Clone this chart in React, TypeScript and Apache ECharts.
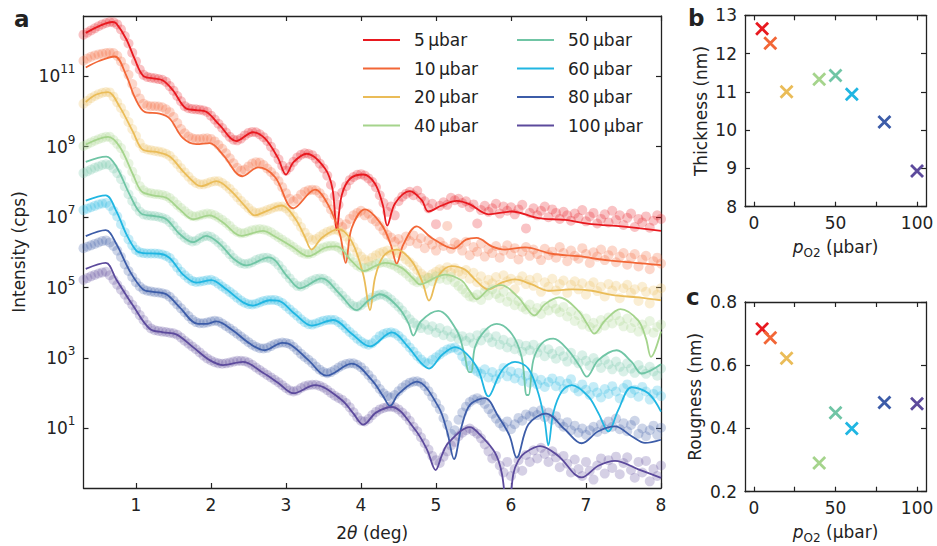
import React, { useEffect, useRef } from "react";
import * as echarts from "echarts";

const FONT = "DejaVu Sans";
const INK = "#222222";

const pressures = [5, 10, 20, 40, 50, 60, 80, 100];
const seriesLabels = pressures.map((p) => `${p}\u2009µbar`);
const colors = ["#e8191f", "#f26636", "#eabc58", "#a5d48c", "#70c5a5", "#20b6e2", "#3c5ca8", "#5c4a9c"];

const xTicks = [1, 2, 3, 4, 5, 6, 7, 8];
const yTickExps = [1, 3, 5, 7, 9, 11];
const pTicksLabel = [0, 50, 100];
const pTicksAll = [0, 25, 50, 75, 100];
const thickTicks = [8, 9, 10, 11, 12, 13];
const roughTicks = [0.2, 0.4, 0.6, 0.8];

const thickness = [12.65, 12.27, 11.0, 11.33, 11.43, 10.94, 10.21, 8.93];
const roughness = [0.715, 0.687, 0.622, 0.291, 0.45, 0.40, 0.482, 0.478];

// fitted curves: [2theta (deg), log10 intensity]
const fit5: [number, number][] = [[0.33,12.23],[0.516,12.43],[0.684,12.54],[0.737,12.50],[0.871,12.05],[0.982,11.49],[1.093,11.02],[1.227,10.94],[1.36,10.88],[1.493,10.60],[1.671,10.08],[1.804,10.04],[1.937,9.99],[2.116,9.61],[2.337,9.16],[2.56,9.41],[2.716,9.24],[2.893,8.68],[3.0,8.21],[3.1,8.56],[3.276,8.80],[3.52,8.38],[3.62,7.80],[3.676,6.64],[3.743,7.62],[3.853,8.09],[4.03,8.21],[4.187,7.95],[4.29,7.35],[4.35,6.76],[4.453,7.39],[4.653,7.74],[4.81,7.48],[4.898,7.16],[5.076,7.33],[5.276,7.46],[5.453,7.36],[5.70,7.08],[6.01,7.16],[6.365,6.97],[6.72,6.92],[7.076,6.80],[7.476,6.74],[8.0,6.61]];
const fit10: [number, number][] = [[0.33,11.25],[0.516,11.44],[0.716,11.56],[0.871,11.02],[0.982,10.41],[1.116,9.99],[1.316,9.94],[1.449,9.80],[1.627,9.24],[1.804,9.07],[1.982,9.10],[2.16,8.77],[2.418,8.16],[2.627,8.41],[2.853,8.14],[3.098,7.25],[3.387,7.78],[3.564,7.34],[3.72,6.50],[3.796,5.70],[3.876,6.69],[4.053,7.22],[4.276,6.78],[4.40,6.20],[4.476,5.68],[4.564,6.22],[4.743,6.74],[4.943,6.41],[5.231,6.11],[5.40,6.36],[5.542,6.41],[5.743,6.17],[5.92,6.08],[6.187,6.14],[6.543,5.96],[6.90,5.89],[7.30,5.77],[8.0,5.64]];
const fit20: [number, number][] = [[0.33,10.27],[0.47,10.48],[0.627,10.55],[0.783,10.13],[0.96,9.42],[1.093,8.91],[1.271,8.85],[1.449,8.72],[1.627,8.30],[1.804,7.93],[1.871,7.88],[2.071,8.02],[2.249,7.78],[2.471,7.27],[2.582,7.05],[2.738,7.17],[2.943,7.33],[3.12,6.97],[3.25,6.45],[3.342,6.08],[3.476,6.41],[3.698,6.66],[3.876,6.31],[4.03,5.37],[4.12,4.36],[4.187,5.28],[4.298,5.89],[4.476,6.08],[4.676,5.75],[4.82,5.15],[4.907,4.63],[5.031,5.33],[5.209,5.61],[5.387,5.51],[5.52,5.23],[5.70,4.95],[5.876,5.14],[6.053,5.23],[6.276,5.09],[6.498,4.91],[6.81,4.95],[7.076,4.91],[7.343,4.79],[7.698,4.72],[8.0,4.64]];
const fit40: [number, number][] = [[0.33,9.06],[0.627,9.28],[0.783,9.00],[0.96,8.21],[1.071,7.74],[1.227,7.62],[1.404,7.55],[1.582,7.22],[1.76,6.94],[1.98,7.05],[2.16,6.85],[2.404,6.47],[2.693,6.61],[2.853,6.45],[3.076,6.17],[3.298,5.89],[3.52,6.13],[3.676,6.17],[3.876,5.75],[4.044,5.47],[4.187,5.61],[4.32,5.70],[4.542,5.56],[4.70,5.25],[4.787,5.09],[4.987,5.28],[5.12,5.37],[5.342,5.20],[5.45,4.90],[5.542,4.67],[5.70,4.95],[5.87,5.07],[6.098,4.72],[6.22,4.38],[6.31,4.21],[6.453,4.53],[6.64,4.72],[6.898,4.34],[7.02,3.95],[7.11,3.69],[7.253,4.06],[7.46,4.39],[7.698,4.06],[7.80,3.55],[7.867,3.03],[8.0,3.75]];
const fit50: [number, number][] = [[0.33,8.57],[0.604,8.72],[0.737,8.44],[0.916,7.64],[1.071,7.10],[1.249,7.03],[1.404,6.94],[1.582,6.52],[1.76,6.29],[1.937,6.47],[2.116,6.24],[2.30,5.82],[2.47,5.63],[2.77,5.86],[3.031,5.28],[3.187,4.98],[3.476,5.26],[3.72,4.81],[3.942,4.36],[4.098,4.63],[4.253,4.81],[4.498,4.44],[4.63,4.00],[4.698,3.64],[4.80,4.05],[5.031,4.34],[5.276,3.78],[5.38,3.10],[5.44,2.60],[5.47,2.60],[5.52,3.31],[5.653,3.78],[5.809,3.97],[6.009,3.69],[6.142,3.03],[6.21,1.95],[6.235,1.95],[6.298,2.94],[6.409,3.41],[6.564,3.55],[6.764,3.22],[6.92,2.75],[7.009,2.47],[7.164,2.94],[7.409,3.22],[7.609,2.89],[7.742,2.56],[8.0,2.82]];
const fit60: [number, number][] = [[0.33,7.47],[0.596,7.62],[0.737,7.17],[0.871,6.52],[1.004,6.05],[1.093,5.98],[1.316,5.96],[1.449,5.84],[1.627,5.37],[1.804,5.14],[2.004,5.21],[2.204,4.95],[2.427,4.58],[2.56,4.49],[2.782,4.64],[2.893,4.63],[3.12,4.25],[3.342,3.92],[3.631,4.08],[3.876,3.69],[4.12,3.33],[4.41,3.73],[4.631,3.31],[4.80,2.86],[4.907,2.70],[5.076,3.08],[5.253,3.31],[5.409,3.12],[5.564,2.66],[5.70,1.91],[5.831,2.47],[5.92,2.75],[6.053,2.89],[6.231,2.70],[6.364,2.00],[6.45,1.20],[6.498,0.52],[6.564,1.44],[6.676,2.05],[6.81,2.23],[7.031,1.91],[7.164,1.44],[7.298,0.92],[7.431,1.53],[7.609,2.17],[7.831,2.00],[8.0,1.48]];
const fit80: [number, number][] = [[0.33,6.46],[0.596,6.63],[0.737,6.24],[0.916,5.47],[1.093,4.95],[1.227,4.88],[1.404,4.81],[1.582,4.44],[1.827,3.97],[1.937,3.97],[2.071,4.04],[2.293,3.78],[2.516,3.41],[2.716,3.22],[2.95,3.43],[3.031,3.41],[3.298,2.94],[3.542,2.50],[3.876,2.84],[4.142,2.38],[4.30,1.90],[4.387,1.64],[4.50,1.98],[4.743,2.33],[5.031,1.62],[5.15,0.90],[5.24,0.13],[5.342,1.06],[5.453,1.67],[5.653,1.86],[5.831,1.34],[5.98,0.80],[6.076,0.17],[6.231,1.11],[6.467,1.42],[6.72,0.97],[6.942,0.58],[7.164,0.92],[7.387,1.06],[7.609,0.78],[7.787,0.59],[8.0,0.68]];
const fit100: [number, number][] = [[0.33,5.53],[0.596,5.70],[0.737,5.23],[0.96,4.49],[1.182,3.83],[1.36,3.73],[1.537,3.67],[1.76,3.31],[1.982,2.94],[2.16,2.80],[2.427,2.89],[2.693,2.58],[2.893,2.30],[3.098,2.00],[3.387,2.23],[3.743,1.81],[3.90,1.42],[4.031,1.11],[4.20,1.45],[4.409,1.61],[4.72,0.97],[4.88,0.40],[4.996,-0.18],[5.08,0.25],[5.164,0.59],[5.453,1.04],[5.564,0.87],[5.787,0.31],[5.88,-0.30],[5.96,-1.6],[6.03,-0.30],[6.10,0.10],[6.187,0.31],[6.387,0.50],[6.631,0.22],[6.942,-0.39],[7.164,-0.06],[7.387,0.08],[7.698,-0.16],[8.0,-0.40]];

// measured points: 2theta from 0.30 to 8.00 in 0.05 deg steps, log10 intensity
const dataX = Array.from({ length: 155 }, (_, i) => Math.round((0.3 + 0.05 * i) * 100) / 100);
const meas5 = [12.18,12.24,12.30,12.36,12.42,12.47,12.51,12.54,12.53,12.47,12.33,12.14,11.93,11.67,11.42,11.19,11.04,10.98,10.96,10.94,
10.92,10.90,10.84,10.72,10.59,10.44,10.29,10.15,10.09,10.07,10.06,10.05,10.03,9.99,9.88,9.77,9.65,9.53,9.40,9.28,
9.20,9.18,9.23,9.32,9.39,9.42,9.41,9.35,9.27,9.16,9.00,8.82,8.64,8.46,8.32,8.42,8.57,8.69,8.77,8.81,
8.80,8.76,8.66,8.52,8.38,8.18,7.92,7.60,7.35,7.70,7.88,8.05,8.14,8.20,8.22,8.18,8.10,8.00,7.85,7.62,
7.40,7.15,7.30,7.05,7.45,7.58,7.66,7.72,7.62,7.75,7.55,7.45,7.25,7.38,6.80,7.32,7.42,7.35,7.55,7.48,
7.52,7.40,7.45,7.28,7.36,6.82,7.20,7.32,7.15,7.25,7.38,7.10,7.30,7.18,7.28,7.08,7.22,7.35,6.68,7.12,
7.25,7.05,7.18,7.30,7.00,7.22,7.12,6.95,7.15,7.05,6.90,7.10,6.98,7.20,6.88,7.02,7.12,6.82,6.95,7.08,
6.85,7.18,6.92,7.05,6.78,6.98,7.10,6.72,6.95,6.85,7.02,6.70,6.90,7.05,6.95];
const meas10 = [11.44,11.50,11.55,11.59,11.62,11.64,11.66,11.67,11.66,11.58,11.42,11.24,11.04,10.78,10.55,10.37,10.22,10.17,10.15,10.15,
10.14,10.12,10.06,9.98,9.84,9.67,9.50,9.38,9.29,9.24,9.22,9.22,9.23,9.24,9.22,9.15,9.05,8.94,8.81,8.67,
8.53,8.40,8.32,8.35,8.44,8.52,8.56,8.55,8.48,8.38,8.28,8.16,8.02,7.85,7.68,7.52,7.45,7.52,7.64,7.72,
7.76,7.78,7.76,7.68,7.55,7.40,7.22,7.05,6.85,6.72,6.80,6.95,7.05,7.12,7.18,7.05,7.10,6.95,6.88,6.75,
6.62,6.50,6.42,6.30,6.38,6.20,6.45,6.32,6.48,6.25,6.40,6.12,6.35,6.22,6.05,6.30,6.18,6.75,6.10,6.28,
6.22,6.05,6.30,5.92,6.15,6.02,6.25,5.88,6.10,5.98,6.18,5.85,6.05,6.20,5.95,6.12,5.80,6.02,6.15,5.90,
6.08,5.95,5.78,6.10,5.92,6.02,5.85,6.15,5.98,5.75,6.05,5.90,5.82,6.12,5.95,5.70,6.00,5.88,6.08,5.78,
5.92,6.05,5.72,5.88,5.98,5.65,5.85,5.95,5.60,5.80,5.90,5.52,5.75,5.85,5.68];
const meas20 = [10.22,10.30,10.38,10.44,10.49,10.53,10.55,10.54,10.42,10.26,10.10,9.92,9.70,9.50,9.30,9.10,8.96,8.92,8.90,8.88,
8.86,8.84,8.80,8.74,8.63,8.51,8.39,8.27,8.15,8.04,7.97,7.93,7.93,7.96,8.00,8.02,8.02,7.97,7.89,7.80,
7.69,7.57,7.46,7.36,7.26,7.17,7.12,7.13,7.16,7.20,7.24,7.28,7.30,7.30,7.25,7.15,7.02,6.88,6.72,6.56,
6.42,6.35,6.38,6.45,6.52,6.58,6.62,6.65,6.62,6.55,6.45,6.32,6.15,6.00,5.88,5.80,5.75,5.85,5.92,5.98,
6.02,6.05,5.95,6.06,5.98,5.90,5.80,5.72,5.62,5.50,5.40,5.32,5.28,5.38,5.45,5.52,5.48,5.58,5.42,5.55,
5.45,5.38,5.50,5.25,5.42,5.15,5.32,5.05,5.22,5.12,5.30,5.08,5.35,5.18,5.25,4.95,5.20,5.32,5.10,5.22,
5.05,5.28,4.88,5.15,5.02,5.25,4.92,5.10,5.20,4.85,5.08,5.18,4.95,5.12,4.80,5.05,5.15,4.90,5.02,4.75,
5.10,4.92,5.05,4.70,4.98,5.08,4.85,4.95,4.62,5.02,4.88,4.55,4.92,4.80,4.98];
const meas40 = [9.02,9.07,9.12,9.17,9.21,9.25,9.28,9.28,9.19,9.08,8.96,8.76,8.52,8.29,8.08,7.88,7.76,7.70,7.68,7.66,
7.65,7.63,7.60,7.54,7.45,7.35,7.26,7.17,7.09,7.03,7.02,7.05,7.08,7.10,7.09,7.05,6.99,6.92,6.84,6.75,
6.65,6.58,6.54,6.55,6.59,6.63,6.65,6.66,6.65,6.62,6.57,6.50,6.43,6.36,6.29,6.22,6.15,6.07,6.00,5.96,
5.95,5.98,6.04,6.10,6.14,6.17,6.19,6.18,6.14,6.06,5.95,5.83,5.72,5.63,5.57,5.55,5.58,5.62,5.66,5.70,
5.72,5.70,5.66,5.62,5.55,5.48,5.40,5.30,5.20,5.15,5.22,5.10,5.28,5.18,5.32,5.25,5.38,5.22,5.30,5.15,
5.05,4.95,4.85,4.75,4.72,4.80,4.65,4.88,4.78,4.95,4.82,4.70,4.88,4.60,4.75,4.50,4.62,4.45,4.38,4.52,
4.30,4.42,4.25,4.48,4.35,4.55,4.40,4.30,4.45,4.18,4.32,4.05,4.22,3.95,4.12,3.88,4.00,3.82,4.08,3.92,
4.15,3.98,4.22,4.05,3.90,4.12,3.85,4.02,3.75,3.95,3.80,4.05,3.72,3.88,3.95];
const meas50 = [8.25,8.30,8.35,8.40,8.44,8.48,8.50,8.48,8.38,8.25,8.08,7.87,7.65,7.46,7.30,7.16,7.08,7.05,7.04,7.03,
7.01,6.98,6.94,6.86,6.75,6.62,6.51,6.42,6.35,6.31,6.33,6.40,6.45,6.47,6.44,6.37,6.28,6.18,6.07,5.95,
5.84,5.75,5.69,5.67,5.68,5.72,5.78,5.82,5.85,5.85,5.81,5.74,5.64,5.51,5.38,5.26,5.14,5.05,5.03,5.08,
5.15,5.20,5.24,5.26,5.25,5.19,5.10,4.99,4.88,4.77,4.66,4.55,4.48,4.45,4.50,4.58,4.65,4.72,4.77,4.80,
4.80,4.74,4.66,4.56,4.46,4.35,4.22,4.10,4.00,3.92,3.85,3.95,3.80,3.90,3.72,3.85,3.65,3.78,3.60,3.70,
3.55,3.62,3.48,3.58,3.42,3.65,3.50,3.72,3.58,3.45,3.62,3.38,3.52,3.30,3.45,3.25,3.40,3.18,3.35,3.22,
3.38,3.15,3.30,3.05,3.25,3.12,2.98,3.20,3.05,2.90,3.15,2.95,2.85,3.08,2.92,2.78,3.00,2.88,2.72,2.95,
2.82,2.68,2.90,2.75,2.62,2.85,2.70,2.58,2.80,2.65,2.55,2.75,2.62,2.50,2.70];
const meas60 = [7.20,7.24,7.28,7.32,7.36,7.39,7.40,7.32,7.18,7.02,6.80,6.57,6.37,6.20,6.07,6.00,5.98,5.97,5.97,5.97,
5.96,5.94,5.90,5.84,5.71,5.57,5.45,5.35,5.26,5.19,5.16,5.17,5.19,5.21,5.22,5.18,5.11,5.03,4.96,4.88,
4.80,4.71,4.63,4.57,4.53,4.52,4.54,4.58,4.62,4.64,4.65,4.65,4.62,4.56,4.47,4.38,4.29,4.20,4.10,4.02,
3.96,3.95,3.98,4.02,4.06,4.08,4.09,4.08,4.02,3.94,3.84,3.74,3.65,3.55,3.47,3.41,3.38,3.42,3.52,3.62,
3.68,3.72,3.73,3.70,3.63,3.53,3.42,3.30,3.18,3.06,2.96,2.88,2.85,2.95,3.02,3.10,3.18,3.24,3.28,3.30,
3.22,3.05,2.90,2.78,2.70,2.62,2.55,2.68,2.45,2.60,2.40,2.55,2.72,2.48,2.62,2.42,2.58,2.35,2.50,2.30,
2.45,2.25,2.38,2.18,2.32,2.42,2.20,2.35,2.12,2.28,2.40,2.15,2.05,2.25,2.10,1.95,2.18,2.02,1.88,2.12,
1.98,2.20,2.05,1.85,2.15,2.25,2.00,2.10,1.90,2.18,2.05,1.82,1.98,2.08,1.92];
const meas80 = [6.12,6.16,6.20,6.24,6.28,6.32,6.34,6.28,6.18,6.05,5.87,5.66,5.47,5.30,5.15,5.03,4.95,4.91,4.89,4.87,
4.86,4.84,4.81,4.74,4.63,4.52,4.41,4.30,4.19,4.09,4.02,3.99,3.99,4.01,4.04,4.06,4.04,3.98,3.91,3.84,
3.77,3.69,3.61,3.53,3.45,3.38,3.32,3.28,3.27,3.29,3.34,3.39,3.42,3.44,3.43,3.40,3.32,3.22,3.12,3.03,
2.95,2.86,2.76,2.67,2.60,2.57,2.60,2.66,2.73,2.79,2.83,2.85,2.85,2.81,2.74,2.64,2.52,2.40,2.26,2.12,
2.00,1.92,1.88,1.95,2.06,2.16,2.24,2.30,2.33,2.34,2.30,2.20,2.06,1.90,1.72,1.55,1.30,1.10,0.85,0.95,
1.25,1.45,1.62,1.75,1.82,1.86,1.80,1.70,1.55,1.42,1.28,1.15,1.05,1.20,0.98,1.12,1.30,1.22,1.40,1.35,
1.48,1.38,1.52,1.32,1.45,1.25,1.35,1.15,1.05,1.18,0.95,1.08,0.88,1.00,0.82,0.95,1.05,0.90,1.12,0.98,
1.20,1.05,1.28,0.98,1.15,0.92,1.10,1.22,0.85,1.00,0.78,0.95,1.08,0.82,1.02];
const meas100 = [5.22,5.27,5.32,5.36,5.40,5.43,5.45,5.35,5.22,5.08,4.94,4.80,4.65,4.51,4.37,4.22,4.08,3.94,3.84,3.79,
3.77,3.75,3.74,3.72,3.70,3.66,3.58,3.49,3.41,3.33,3.25,3.16,3.07,2.99,2.93,2.88,2.85,2.84,2.85,2.87,
2.90,2.92,2.92,2.91,2.87,2.81,2.73,2.66,2.59,2.52,2.45,2.38,2.31,2.23,2.15,2.08,2.05,2.08,2.15,2.20,
2.23,2.24,2.24,2.21,2.16,2.09,2.01,1.93,1.87,1.81,1.72,1.60,1.46,1.32,1.22,1.20,1.27,1.38,1.47,1.54,
1.58,1.61,1.62,1.60,1.54,1.45,1.35,1.22,1.05,0.92,0.75,0.58,0.40,0.22,0.10,0.02,0.20,0.35,0.52,0.62,
0.78,0.88,0.95,1.00,0.92,0.85,0.72,0.55,0.35,0.15,0.22,-0.05,-0.25,0.05,-0.35,-0.15,0.10,-0.20,0.25,0.05,
0.38,0.15,0.45,0.28,0.05,0.35,0.18,-0.10,0.22,0.00,-0.25,0.12,-0.15,-0.35,0.05,-0.20,-0.45,-0.05,0.15,-0.28,
0.10,-0.12,0.20,-0.30,0.02,0.18,-0.18,-0.40,0.05,-0.25,0.08,-0.50,-0.15,-0.35,-0.05];

const fits = [fit5, fit10, fit20, fit40, fit50, fit60, fit80, fit100];
const meas = [meas5, meas10, meas20, meas40, meas50, meas60, meas80, meas100];

const CROSS = "path://M0,0L10,10M10,0L0,10";

function axisBase(pos: string, gridIndex: number, min: number, max: number, labelVals: number[] | null, tickVals: number[], showLabel: boolean, extra: any = {}) {
  return {
    type: "value",
    gridIndex,
    position: pos,
    min,
    max,
    axisLine: { show: true, onZero: false, lineStyle: { color: INK, width: 1.3 } },
    axisTick: { show: true, inside: true, length: 5, customValues: tickVals, lineStyle: { color: INK, width: 1.2 } },
    splitLine: { show: false },
    axisLabel: showLabel
      ? { show: true, customValues: labelVals, color: INK, fontSize: 17, fontFamily: FONT, margin: 8 }
      : { show: false },
    ...extra,
  };
}

const nameStyle = { color: INK, fontSize: 17, fontFamily: FONT };

export default function App() {
  const ref = useRef<HTMLDivElement>(null);
  useEffect(() => {
    if (!ref.current) return;
    const chart = echarts.init(ref.current, null, { renderer: "svg" });

    const series: any[] = [];
    meas.forEach((m, i) => {
      series.push({
        type: "scatter",
        name: `data ${seriesLabels[i]}`,
        xAxisIndex: 0,
        yAxisIndex: 0,
        data: m.map((v, j) => [dataX[j], v]),
        symbolSize: 10,
        itemStyle: { color: colors[i], opacity: 0.26 },
        silent: true,
        z: 2,
      });
    });
    fits.forEach((f, i) => {
      series.push({
        type: "line",
        name: seriesLabels[i],
        xAxisIndex: 0,
        yAxisIndex: 0,
        data: f,
        smooth: 0.35,
        symbol: "none",
        lineStyle: { color: colors[i], width: 1.8 },
        itemStyle: { color: colors[i] },
        silent: true,
        z: 3,
      });
    });
    series.push({
      type: "scatter",
      name: "thickness",
      xAxisIndex: 2,
      yAxisIndex: 2,
      symbol: CROSS,
      symbolSize: 12,
      data: pressures.map((p, i) => ({ value: [p, thickness[i]], itemStyle: { borderColor: colors[i] } })),
      itemStyle: { color: "transparent", borderWidth: 2.8, opacity: 1 },
      silent: true,
    });
    series.push({
      type: "scatter",
      name: "roughness",
      xAxisIndex: 4,
      yAxisIndex: 4,
      symbol: CROSS,
      symbolSize: 12,
      data: pressures.map((p, i) => ({ value: [p, roughness[i]], itemStyle: { borderColor: colors[i] } })),
      itemStyle: { color: "transparent", borderWidth: 2.8, opacity: 1 },
      silent: true,
    });

    const supRich = {
      b: { fontSize: 17, fontFamily: FONT, color: INK, lineHeight: 26, verticalAlign: "middle" },
      s: { fontSize: 12, fontFamily: FONT, color: INK, lineHeight: 14, verticalAlign: "top" },
    };
    const pName = "{i|p}{sub|O2}{n| (µbar)}";
    const pRich = {
      i: { fontSize: 17, fontFamily: FONT, color: INK, fontStyle: "italic", lineHeight: 24, verticalAlign: "middle" },
      n: { fontSize: 17, fontFamily: FONT, color: INK, lineHeight: 24, verticalAlign: "middle" },
      sub: { fontSize: 12, fontFamily: FONT, color: INK, lineHeight: 12, verticalAlign: "bottom" },
    };

    const legendBase = {
      orient: "vertical",
      top: 30,
      padding: 0,
      icon: "rect",
      itemWidth: 37,
      itemHeight: 2,
      itemGap: 8.5,
      textStyle: { color: INK, fontSize: 17, fontFamily: FONT, lineHeight: 20, padding: [0, 0, 0, 9] },
      selectedMode: false,
    };

    const option: any = {
      animation: false,
      backgroundColor: "#ffffff",
      grid: [
        { left: 83.5, top: 16, width: 577.5, height: 476 },
        { left: 745, top: 15.3, width: 181, height: 191.4 },
        { left: 745, top: 302, width: 181, height: 189.7 },
      ],
      xAxis: [
        axisBase("bottom", 0, 0.3, 8, xTicks, xTicks, true, {
          name: "{n|2}{i|θ}{n| (deg)}",
          nameLocation: "middle",
          nameGap: 36,
          nameTextStyle: {
            ...nameStyle,
            rich: {
              n: { fontSize: 17, fontFamily: FONT, color: INK },
              i: { fontSize: 17, fontFamily: FONT, color: INK, fontStyle: "italic" },
            },
          },
        }),
        axisBase("top", 0, 0.3, 8, null, xTicks, false),
        axisBase("bottom", 1, -5.5, 105.5, pTicksLabel, pTicksAll, true, {
          name: pName,
          nameLocation: "middle",
          nameGap: 28,
          nameTextStyle: { ...nameStyle, rich: pRich },
        }),
        axisBase("top", 1, -5.5, 105.5, null, pTicksAll, false),
        axisBase("bottom", 2, -5.5, 105.5, pTicksLabel, pTicksAll, true, {
          name: pName,
          nameLocation: "middle",
          nameGap: 28,
          nameTextStyle: { ...nameStyle, rich: pRich },
        }),
        axisBase("top", 2, -5.5, 105.5, null, pTicksAll, false),
      ],
      yAxis: [
        {
          ...axisBase("left", 0, -0.69, 12.71, yTickExps, yTickExps, true, {
            name: "Intensity (cps)",
            nameLocation: "middle",
            nameGap: 48,
            nameTextStyle: nameStyle,
          }),
          axisLabel: {
            show: true,
            customValues: yTickExps,
            margin: 8,
            formatter: (v: number) => `{b|10}{s|${Math.round(v)}}`,
            rich: supRich,
          },
        },
        axisBase("right", 0, -0.69, 12.71, null, yTickExps, false),
        axisBase("left", 1, 8, 13, thickTicks, thickTicks, true, {
          name: "Thickness (nm)",
          nameLocation: "middle",
          nameGap: 36,
          nameTextStyle: nameStyle,
        }),
        axisBase("right", 1, 8, 13, null, thickTicks, false),
        {
          ...axisBase("left", 2, 0.2, 0.8, roughTicks, roughTicks, true, {
            name: "Rougness (nm)",
            nameLocation: "middle",
            nameGap: 42,
            nameTextStyle: nameStyle,
          }),
          axisLabel: {
            show: true,
            customValues: roughTicks,
            color: INK,
            fontSize: 17,
            fontFamily: FONT,
            margin: 8,
            formatter: (v: number) => v.toFixed(1),
          },
        },
        axisBase("right", 2, 0.2, 0.8, null, roughTicks, false),
      ],
      legend: [
        { ...legendBase, left: 363, data: seriesLabels.slice(0, 4) },
        { ...legendBase, left: 517, data: seriesLabels.slice(4) },
      ],
      graphic: [
        { type: "text", left: 14, top: 7, style: { text: "a", fontSize: 23, fontWeight: "bold", fontFamily: FONT, fill: INK } },
        { type: "text", left: 688, top: 6, style: { text: "b", fontSize: 23, fontWeight: "bold", fontFamily: FONT, fill: INK } },
        { type: "text", left: 686, top: 285, style: { text: "c", fontSize: 23, fontWeight: "bold", fontFamily: FONT, fill: INK } },
      ],
      series,
    };
    chart.setOption(option);
    return () => chart.dispose();
  }, []);
  return <div ref={ref} style={{ position: "absolute", left: 0, top: 0, width: 937, height: 546 }} />;
}
